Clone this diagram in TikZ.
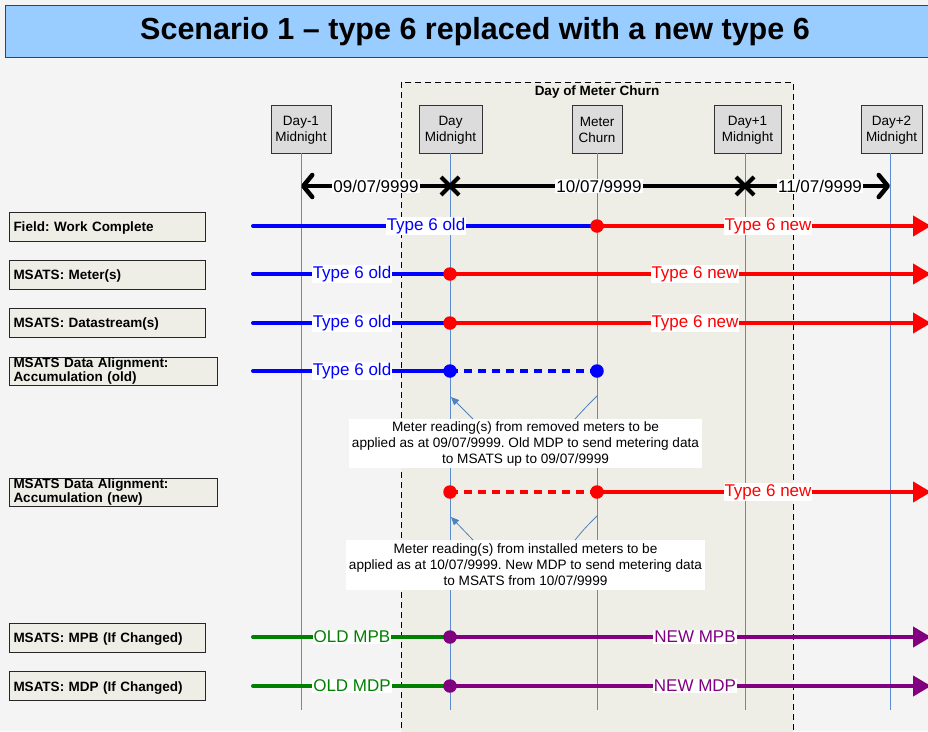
\documentclass[tikz,border=0pt]{standalone}
\usepackage{fontspec}
\setmainfont{Liberation Sans}
\usetikzlibrary{arrows.meta,calc}
\frenchspacing
\definecolor{bgc}{HTML}{F5F4F4}
\definecolor{titlebg}{HTML}{99CCFF}
\definecolor{churnbg}{HTML}{EEEEE6}
\definecolor{vline}{HTML}{5B8BD0}
\definecolor{tblue}{HTML}{0000FF}
\definecolor{tred}{HTML}{FF0000}
\definecolor{tgreen}{HTML}{008000}
\definecolor{tpurple}{HTML}{800080}
\definecolor{boxgrey}{HTML}{DCDCDC}
\definecolor{calloutc}{HTML}{4F81BD}
\begin{document}
\begin{tikzpicture}[x=1pt,y=-1pt,
  daybox/.style={draw=black!80, fill=boxgrey, line width=0.8pt, align=center, inner sep=1pt,
    minimum height=48pt, font=\fontsize{13.5}{16}\selectfont},
  rowlabel/.style={draw=black!85, fill=churnbg, line width=1pt, anchor=west, align=left, inner sep=0pt,
    font=\bfseries\fontsize{13.5}{14}\selectfont},
  vl/.style={draw=vline, line width=0.8pt},
  rowline/.style={line width=4pt, line cap=round},
  endarrow/.style={-{Triangle[length=18pt,width=20pt]}},
  lbl/.style={fill=white, inner sep=1pt, font=\fontsize{17}{17}\selectfont},
  datelbl/.style={fill=white, inner sep=1pt, font=\fontsize{17}{17}\selectfont},
  dot/.style={circle, inner sep=0pt, minimum size=13.5pt},
  callout/.style={fill=white, align=center, inner sep=0pt, font=\fontsize{13.6}{16}\selectfont},
  cline/.style={draw=calloutc, line width=0.8pt},
  xmark/.style={line width=4pt}
]
\fill[bgc] (0,0) rectangle (928,731);
\useasboundingbox (0,0) rectangle (928,731);

% title
\draw[fill=titlebg, draw=black!75, line width=1pt] (5,5) rectangle (945,57);
\node[font=\bfseries\fontsize{30.5}{32}\selectfont] (title) at (475,32) {Scenario 1 -- type 6 replaced with a new type 6};

% day of meter churn
\draw[fill=churnbg, draw=black, dash pattern=on 6pt off 4pt, line width=1pt] (401,82) rectangle (793,745);
\node[font=\bfseries\fontsize{13.5}{15}\selectfont] (churnlbl) at (597,92.5) {Day of Meter Churn};

% top boxes
\node[daybox, minimum width=60pt] (d1) at (301,129) {\rule{0pt}{12pt}Day-1\\Midnight};
\node[daybox, minimum width=63pt] (d0) at (450.5,129) {\rule{0pt}{12pt}Day\\Midnight};
\node[daybox, minimum width=50pt] (mc) at (597,129) {\rule{0pt}{12pt}Meter\\Churn};
\node[daybox, minimum width=67pt] (dp1) at (747.5,129) {\rule{0pt}{12pt}Day+1\\Midnight};
\node[daybox, minimum width=61pt] (dp2) at (891.5,129) {\rule{0pt}{12pt}Day+2\\Midnight};

\coordinate (bot) at (0,710);
\coordinate (v1) at (301,153);
\coordinate (v0) at (450,153);
\coordinate (vm) at (597,153);
\coordinate (vp1) at (745,153);
\coordinate (vp2) at (890,153);
\foreach \v in {v1,v0,vm,vp1,vp2} {\draw[vl] (\v) -- (\v |- bot);}

% date row
\coordinate (da) at (301,186);
\coordinate (db) at (890,186);
\coordinate (xa) at (450,186);
\coordinate (xb) at (745,186);
\draw[line width=4.5pt, {Straight Barb[length=9pt,width=22pt,round]}-{Straight Barb[length=9pt,width=22pt,round]}] (da) -- (db);
\foreach \c in {xa,xb} {\draw[xmark] ($(\c)+(-9,-9)$) -- ($(\c)+(9,9)$) ($(\c)+(-9,9)$) -- ($(\c)+(9,-9)$);}
\node[datelbl] (dl1) at (376,186) {09/07/9999};
\node[datelbl] (dl2) at (599,186) {10/07/9999};
\node[datelbl] (dl3) at (820,186) {11/07/9999};

% row labels
\node[rowlabel, minimum width=196pt, minimum height=29pt, text width=188pt] (r1) at (9,226.5) {\rule{0pt}{13pt}Field: Work Complete};
\node[rowlabel, minimum width=196pt, minimum height=29pt, text width=188pt] (r2) at (9,274.5) {\rule{0pt}{13pt}MSATS: Meter(s)};
\node[rowlabel, minimum width=196pt, minimum height=29pt, text width=188pt] (r3) at (9,322.5) {\rule{0pt}{13pt}MSATS: Datastream(s)};
\node[rowlabel, minimum width=208pt, minimum height=28pt, text width=204pt] (r4) at (9,371) {\hspace*{2pt}MSATS Data Alignment:\\\hspace*{2pt}Accumulation (old)};
\node[rowlabel, minimum width=208pt, minimum height=28pt, text width=204pt] (r5) at (9,492) {\hspace*{2pt}MSATS Data Alignment:\\\hspace*{2pt}Accumulation (new)};
\node[rowlabel, minimum width=196pt, minimum height=29pt, text width=188pt] (r6) at (9,637.5) {\rule{0pt}{13pt}MSATS: MPB (If Changed)};
\node[rowlabel, minimum width=196pt, minimum height=29pt, text width=188pt] (r7) at (9,686) {\rule{0pt}{13pt}MSATS: MDP (If Changed)};

% row 1: field
\coordinate (s1) at (253,226); \coordinate (m1) at (597,226); \coordinate (e1) at (931,226);
\draw[rowline, tblue] (s1) -- (m1);
\draw[line width=4pt, tred, endarrow] (m1) -- (e1);
\node[dot, fill=tred] (p1) at (m1) {};
\node[lbl, text=tblue] (t1a) at (426,226) {Type 6 old};
\node[lbl, text=tred] (t1b) at (768,226) {Type 6 new};

% row 2: meters
\coordinate (s2) at (253,274); \coordinate (m2) at (450,274); \coordinate (e2) at (931,274);
\draw[rowline, tblue] (s2) -- (m2);
\draw[line width=4pt, tred, endarrow] (m2) -- (e2);
\node[dot, fill=tred] (p2) at (m2) {};
\node[lbl, text=tblue] (t2a) at (352,274) {Type 6 old};
\node[lbl, text=tred] (t2b) at (695,274) {Type 6 new};

% row 3: datastreams
\coordinate (s3) at (253,323); \coordinate (m3) at (450,323); \coordinate (e3) at (931,323);
\draw[rowline, tblue] (s3) -- (m3);
\draw[line width=4pt, tred, endarrow] (m3) -- (e3);
\node[dot, fill=tred] (p3) at (m3) {};
\node[lbl, text=tblue] (t3a) at (352,323) {Type 6 old};
\node[lbl, text=tred] (t3b) at (695,323) {Type 6 new};

% row 4: accumulation old
\coordinate (s4) at (253,371); \coordinate (m4) at (450,371); \coordinate (n4) at (597,371);
\draw[rowline, tblue] (s4) -- (m4);
\draw[line width=4pt, tblue, dash pattern=on 8pt off 6pt] (m4) -- (n4);
\node[dot, fill=tblue] (p4a) at (m4) {};
\node[dot, fill=tblue] (p4b) at (n4) {};
\node[lbl, text=tblue] (t4a) at (352,371) {Type 6 old};

% row 5: accumulation new
\coordinate (m5) at (450,492); \coordinate (n5) at (597,492); \coordinate (e5) at (931,492);
\draw[line width=4pt, tred, dash pattern=on 8pt off 6pt] (m5) -- (n5);
\draw[line width=4pt, tred, endarrow] (n5) -- (e5);
\node[dot, fill=tred] (p5a) at (m5) {};
\node[dot, fill=tred] (p5b) at (n5) {};
\node[lbl, text=tred] (t5b) at (768,492) {Type 6 new};

% row 6: MPB
\coordinate (s6) at (253,637); \coordinate (m6) at (450,637); \coordinate (e6) at (931,637);
\draw[rowline, tgreen] (s6) -- (m6);
\draw[line width=4pt, tpurple, endarrow] (m6) -- (e6);
\node[dot, fill=tpurple] (p6) at (m6) {};
\node[lbl, text=tgreen] (t6a) at (352,637) {OLD MPB};
\node[lbl, text=tpurple] (t6b) at (695,637) {NEW MPB};

% row 7: MDP
\coordinate (s7) at (253,686); \coordinate (m7) at (450,686); \coordinate (e7) at (931,686);
\draw[rowline, tgreen] (s7) -- (m7);
\draw[line width=4pt, tpurple, endarrow] (m7) -- (e7);
\node[dot, fill=tpurple] (p7) at (m7) {};
\node[lbl, text=tgreen] (t7a) at (352,686) {OLD MDP};
\node[lbl, text=tpurple] (t7b) at (695,686) {NEW MDP};

% callouts
\node[callout, minimum width=353pt, minimum height=49pt] (c1) at (525.5,443.5)
  {Meter reading(s) from removed meters to be\\applied as at 09/07/9999. Old MDP to send metering data\\to MSATS up to 09/07/9999};
\node[callout, minimum width=359pt, minimum height=50pt] (c2) at (525.5,565)
  {Meter reading(s) from installed meters to be\\applied as at 10/07/9999. New MDP to send metering data\\to MSATS from 10/07/9999};
\coordinate (c1a) at (473,419); \coordinate (c1t) at (451,397);
\coordinate (c1b) at (575,419); \coordinate (c1u) at (597,396);
\draw[cline, -{Triangle[length=8pt,width=7pt]}] (c1a) -- (c1t);
\draw[cline] (c1b) .. controls (585,408) .. (c1u);
\coordinate (c2a) at (473,540); \coordinate (c2t) at (451,517);
\coordinate (c2b) at (575,540); \coordinate (c2u) at (597,516);
\draw[cline, -{Triangle[length=8pt,width=7pt]}] (c2a) -- (c2t);
\draw[cline] (c2b) .. controls (585,528) .. (c2u);
\end{tikzpicture}
\end{document}
